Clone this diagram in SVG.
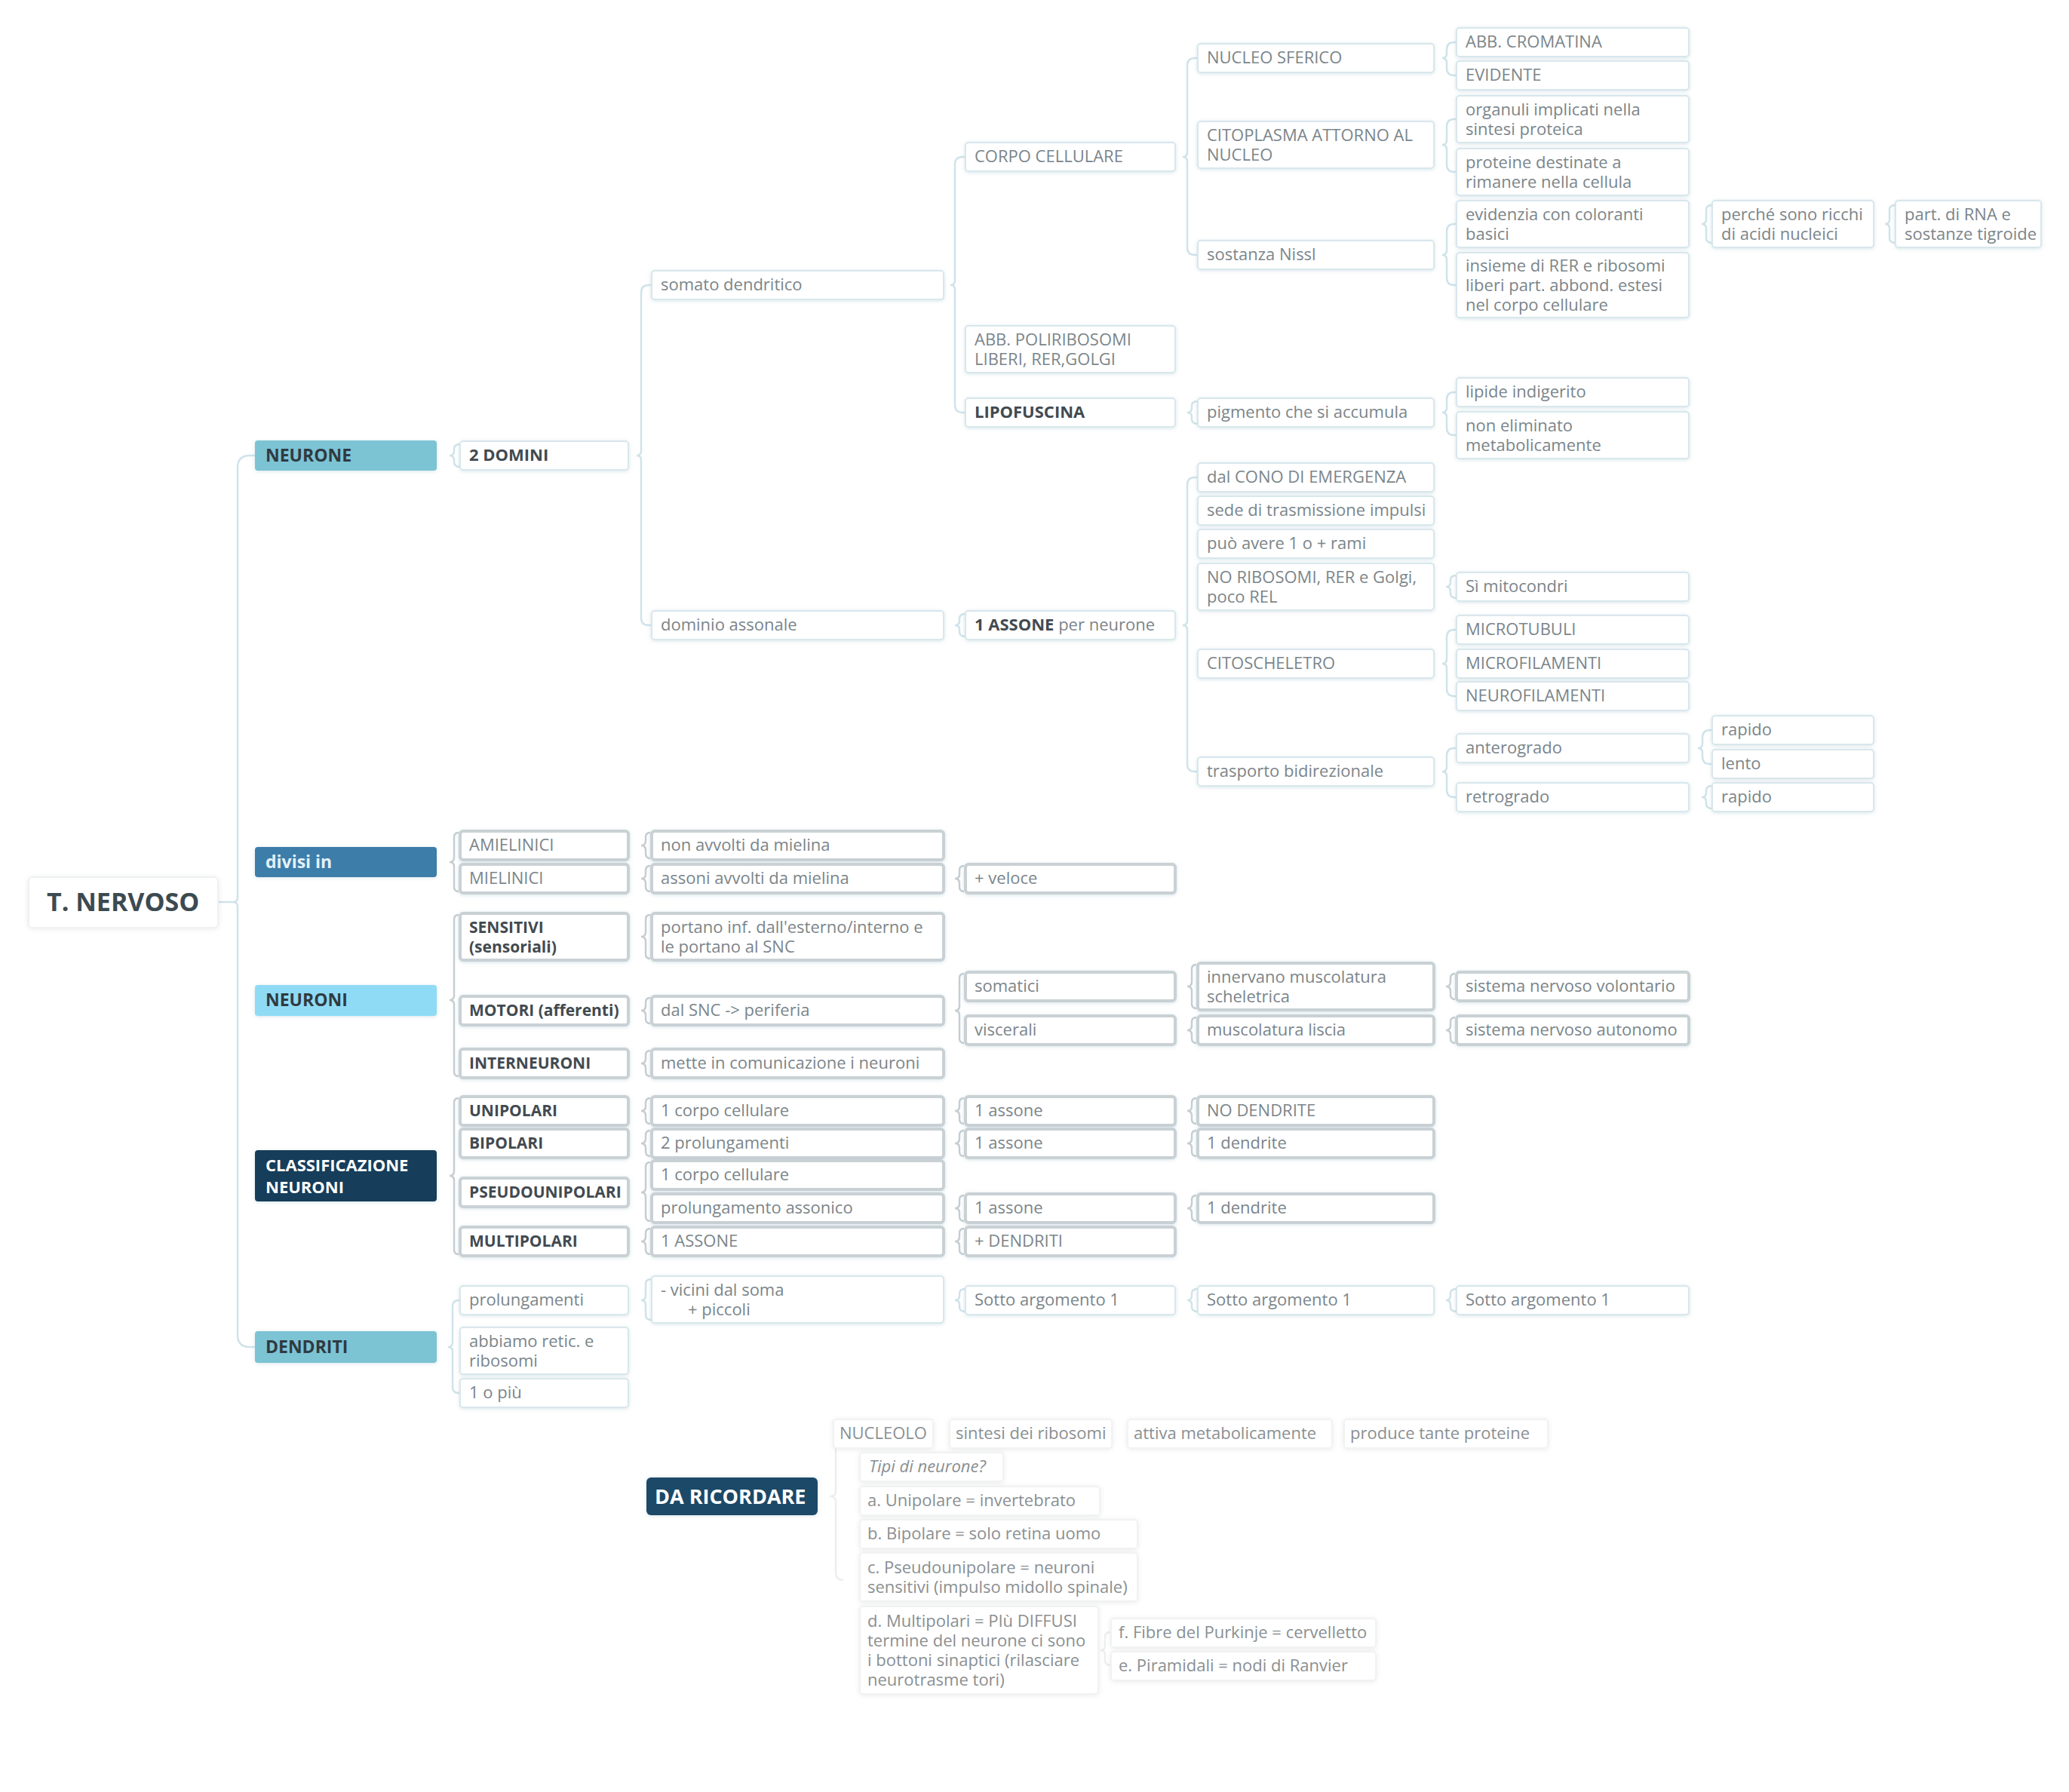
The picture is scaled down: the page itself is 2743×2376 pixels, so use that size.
<svg xmlns="http://www.w3.org/2000/svg" width="2743" height="2376" viewBox="0 0 2743 2376">
<defs>
<filter id="sh" x="-10%" y="-30%" width="120%" height="160%"><feDropShadow dx="0" dy="1" stdDeviation="2.5" flood-color="#8fb3c0" flood-opacity="0.35"/></filter>
<filter id="shf" x="-10%" y="-30%" width="120%" height="160%"><feDropShadow dx="0" dy="1" stdDeviation="3" flood-color="#000" flood-opacity="0.08"/></filter>
<style>
text{font-family:"Open Sans","Liberation Sans",sans-serif;font-size:22px;fill:#7b858a}
.u rect{fill:#fff;stroke:#d8e7ec;stroke-width:2;filter:url(#sh)}
.g rect{fill:#fff;stroke:#c9d1d5;stroke-width:4;filter:url(#sh)}
.f rect{fill:#fff;stroke:#f0f2f3;stroke-width:2;filter:url(#shf)}
.f text{fill:#8a8f92}
.b{font-weight:bold;fill:#424a50}
.g .b{font-size:21px}
.m text{font-weight:bold;font-size:23px;fill:#2f3a40}
.m rect{filter:url(#sh)}
.c path{fill:none;stroke:#cfe3ea;stroke-width:2.5}
.c path.k{stroke:#c6ced2}
.c path.x{stroke:#eceeef}
</style>
</defs>
<rect width="2743" height="2376" fill="#fff"/>

<g id="connectors" class="c">
<path d="M338,604 H331 Q315,604 315,620 V1190 Q315,1196 309,1196 Q315,1196 315,1202 V1770 Q315,1786 331,1786 H338"/>
<path d="M289,1196 H309"/>
<path d="M610,589 Q602,589 602,595 V598 Q602,604 596,604 Q602,604 602,610 V613 Q602,619 610,619"/>
<path d="M864,378 H860 Q850,378 850,388 V598 Q850,604 844,604 Q850,604 850,610 V819 Q850,829 860,829 H864"/>
<path d="M1280,208 H1276 Q1266,208 1266,218 V372 Q1266,378 1260,378 Q1266,378 1266,384 V537 Q1266,547 1276,547 H1280"/>
<path d="M1588,77 H1584 Q1574,77 1574,87 V202 Q1574,208 1568,208 Q1574,208 1574,214 V328 Q1574,338 1584,338 H1588"/>
<path d="M1931,56 H1928 Q1918,56 1918,66 V71 Q1918,77 1912,77 Q1918,77 1918,83 V90 Q1918,100 1928,100 H1931"/>
<path d="M1931,158 H1928 Q1918,158 1918,168 V186 Q1918,192 1912,192 Q1918,192 1918,198 V218 Q1918,228 1928,228 H1931"/>
<path d="M1931,297 H1928 Q1918,297 1918,307 V332 Q1918,338 1912,338 Q1918,338 1918,344 V368 Q1918,378 1928,378 H1931"/>
<path d="M2270,272 Q2262,272 2262,278 V291 Q2262,297 2256,297 Q2262,297 2262,303 V316 Q2262,322 2270,322"/>
<path d="M2513,272 Q2505,272 2505,278 V291 Q2505,297 2499,297 Q2505,297 2505,303 V316 Q2505,322 2513,322"/>
<path d="M1588,532 Q1580,532 1580,538 V541 Q1580,547 1574,547 Q1580,547 1580,553 V556 Q1580,562 1588,562"/>
<path d="M1931,520 H1928 Q1918,520 1918,530 V541 Q1918,547 1912,547 Q1918,547 1918,553 V567 Q1918,577 1928,577 H1931"/>
<path d="M1280,814 Q1272,814 1272,820 V823 Q1272,829 1266,829 Q1272,829 1272,835 V838 Q1272,844 1280,844"/>
<path d="M1588,633 H1584 Q1574,633 1574,643 V823 Q1574,829 1568,829 Q1574,829 1574,835 V1013 Q1574,1023 1584,1023 H1588"/>
<path d="M1931,763 Q1923,763 1923,769 V772 Q1923,778 1917,778 Q1923,778 1923,784 V787 Q1923,793 1931,793"/>
<path d="M1931,835 H1928 Q1918,835 1918,845 V874 Q1918,880 1912,880 Q1918,880 1918,886 V913 Q1918,923 1928,923 H1931"/>
<path d="M1931,992 H1928 Q1918,992 1918,1002 V1017 Q1918,1023 1912,1023 Q1918,1023 1918,1029 V1047 Q1918,1057 1928,1057 H1931"/>
<path d="M2270,968 H2267 Q2257,968 2257,978 V986 Q2257,992 2251,992 Q2257,992 2257,998 V1003 Q2257,1013 2267,1013 H2270"/>
<path d="M2270,1042 Q2262,1042 2262,1048 V1051 Q2262,1057 2256,1057 Q2262,1057 2262,1063 V1066 Q2262,1072 2270,1072"/>

<path d="M610,1724 H608 Q600,1724 600,1732 V1780 Q600,1786 594,1786 Q600,1786 600,1792 V1839 Q600,1847 608,1847 H610"/>
<path d="M864,1696 Q856,1696 856,1702 V1718 Q856,1724 850,1724 Q856,1724 856,1730 V1744 Q856,1750 864,1750"/>
<path d="M1280,1709 Q1272,1709 1272,1715 V1718 Q1272,1724 1266,1724 Q1272,1724 1272,1730 V1733 Q1272,1739 1280,1739"/>
<path d="M1588,1709 Q1580,1709 1580,1715 V1718 Q1580,1724 1574,1724 Q1580,1724 1580,1730 V1733 Q1580,1739 1588,1739"/>
<path d="M1931,1709 Q1923,1709 1923,1715 V1718 Q1923,1724 1917,1724 Q1923,1724 1923,1730 V1733 Q1923,1739 1931,1739"/>

<path class="k" d="M608,1104 Q602,1104 602,1110 V1137 Q602,1143 596,1143 Q602,1143 602,1149 V1176 Q602,1182 608,1182"/>
<path class="k" d="M862,1104 Q856,1104 856,1110 V1115 Q856,1121 850,1121 Q856,1121 856,1127 V1132 Q856,1138 862,1138"/>
<path class="k" d="M862,1148 Q856,1148 856,1154 V1159 Q856,1165 850,1165 Q856,1165 856,1171 V1176 Q856,1182 862,1182"/>
<path class="k" d="M1278,1148 Q1272,1148 1272,1154 V1159 Q1272,1165 1266,1165 Q1272,1165 1272,1171 V1176 Q1272,1182 1278,1182"/>
<path class="k" d="M608,1213 Q602,1213 602,1219 V1320 Q602,1326 596,1326 Q602,1326 602,1332 V1421 Q602,1427 608,1427"/>
<path class="k" d="M862,1213 Q856,1213 856,1219 V1236 Q856,1242 850,1242 Q856,1242 856,1248 V1265 Q856,1271 862,1271"/>
<path class="k" d="M862,1323 Q856,1323 856,1329 V1334 Q856,1340 850,1340 Q856,1340 856,1346 V1351 Q856,1357 862,1357"/>
<path class="k" d="M1278,1291 Q1272,1291 1272,1297 V1334 Q1272,1340 1266,1340 Q1272,1340 1272,1346 V1377 Q1272,1383 1278,1383"/>
<path class="k" d="M1586,1279 Q1580,1279 1580,1285 V1302 Q1580,1308 1574,1308 Q1580,1308 1580,1314 V1331 Q1580,1337 1586,1337"/>
<path class="k" d="M1586,1349 Q1580,1349 1580,1355 V1360 Q1580,1366 1574,1366 Q1580,1366 1580,1372 V1377 Q1580,1383 1586,1383"/>
<path class="k" d="M1929,1291 Q1923,1291 1923,1297 V1302 Q1923,1308 1917,1308 Q1923,1308 1923,1314 V1319 Q1923,1325 1929,1325"/>
<path class="k" d="M1929,1349 Q1923,1349 1923,1355 V1360 Q1923,1366 1917,1366 Q1923,1366 1923,1372 V1377 Q1923,1383 1929,1383"/>
<path class="k" d="M862,1393 Q856,1393 856,1399 V1404 Q856,1410 850,1410 Q856,1410 856,1416 V1421 Q856,1427 862,1427"/>
<path class="k" d="M608,1456 Q602,1456 602,1462 V1553 Q602,1559 596,1559 Q602,1559 602,1565 V1657 Q602,1663 608,1663"/>
<path class="k" d="M862,1456 Q856,1456 856,1462 V1467 Q856,1473 850,1473 Q856,1473 856,1479 V1484 Q856,1490 862,1490"/>
<path class="k" d="M1278,1456 Q1272,1456 1272,1462 V1467 Q1272,1473 1266,1473 Q1272,1473 1272,1479 V1484 Q1272,1490 1278,1490"/>
<path class="k" d="M1586,1456 Q1580,1456 1580,1462 V1467 Q1580,1473 1574,1473 Q1580,1473 1580,1479 V1484 Q1580,1490 1586,1490"/>
<path class="k" d="M862,1499 Q856,1499 856,1505 V1510 Q856,1516 850,1516 Q856,1516 856,1522 V1527 Q856,1533 862,1533"/>
<path class="k" d="M1278,1499 Q1272,1499 1272,1505 V1510 Q1272,1516 1266,1516 Q1272,1516 1272,1522 V1527 Q1272,1533 1278,1533"/>
<path class="k" d="M1586,1499 Q1580,1499 1580,1505 V1510 Q1580,1516 1574,1516 Q1580,1516 1580,1522 V1527 Q1580,1533 1586,1533"/>
<path class="k" d="M862,1541 Q856,1541 856,1547 V1575 Q856,1581 850,1581 Q856,1581 856,1587 V1613 Q856,1619 862,1619"/>
<path class="k" d="M1278,1585 Q1272,1585 1272,1591 V1596 Q1272,1602 1266,1602 Q1272,1602 1272,1608 V1613 Q1272,1619 1278,1619"/>
<path class="k" d="M1586,1585 Q1580,1585 1580,1591 V1596 Q1580,1602 1574,1602 Q1580,1602 1580,1608 V1613 Q1580,1619 1586,1619"/>
<path class="k" d="M862,1629 Q856,1629 856,1635 V1640 Q856,1646 850,1646 Q856,1646 856,1652 V1657 Q856,1663 862,1663"/>
<path class="k" d="M1278,1629 Q1272,1629 1272,1635 V1640 Q1272,1646 1266,1646 Q1272,1646 1272,1652 V1657 Q1272,1663 1278,1663"/>

<path class="x" d="M1118,1900 Q1108,1900 1108,1910 V1978 Q1108,1984 1100,1984 Q1108,1984 1108,1990 V2085 Q1108,2095 1118,2095"/>
<path class="x" d="M1473,2164 Q1465,2164 1465,2170 V2182 Q1465,2188 1459,2188 Q1465,2188 1465,2194 V2202 Q1465,2208 1473,2208"/>
</g>

<g id="n-root"><rect x="38" y="1163" width="251" height="67" rx="5" fill="#fff" stroke="#eef1f2" stroke-width="2" filter="url(#shf)"/><text x="62" y="1208" style="font-size:34px;font-weight:bold;fill:#3c4a52">T. NERVOSO</text></g>

<g class="m">
<g id="n-neurone"><rect x="338" y="584" width="241" height="40" rx="4" fill="#7bc3d4"/><text x="352" y="612">NEURONE</text></g>
<g id="n-divisi"><rect x="338" y="1123" width="241" height="40" rx="4" fill="#3e7daa"/><text x="352" y="1151" style="fill:#e3f1fa">divisi in</text></g>
<g id="n-neuroni"><rect x="338" y="1306" width="241" height="41" rx="4" fill="#8fdbf6"/><text x="352" y="1334">NEURONI</text></g>
<g id="n-class"><rect x="338" y="1525" width="241" height="68" rx="4" fill="#173e5a"/><text x="352" y="1553" style="fill:#fff;font-size:22px">CLASSIFICAZIONE<tspan x="352" dy="29">NEURONI</tspan></text></g>
<g id="n-dendriti"><rect x="338" y="1765" width="241" height="42" rx="4" fill="#7bc3d4"/><text x="352" y="1794">DENDRITI</text></g>
</g>

<g class="u">
<g id="n-2domini"><rect x="610" y="585" width="223" height="38" rx="4"/><text class="b" x="622" y="611">2 DOMINI</text></g>
<g id="n-somato"><rect x="864" y="359" width="387" height="38" rx="4"/><text x="876" y="385">somato dendritico</text></g>
<g id="n-dominio"><rect x="864" y="810" width="387" height="38" rx="4"/><text x="876" y="836">dominio assonale</text></g>
<g id="n-corpo"><rect x="1280" y="189" width="278" height="38" rx="4"/><text x="1292" y="215">CORPO CELLULARE</text></g>
<g id="n-abbpoli"><rect x="1280" y="432" width="278" height="62" rx="4"/><text x="1292" y="458">ABB. POLIRIBOSOMI<tspan x="1292" dy="26">LIBERI, RER,GOLGI</tspan></text></g>
<g id="n-lipo"><rect x="1280" y="528" width="278" height="38" rx="4"/><text class="b" x="1292" y="554">LIPOFUSCINA</text></g>
<g id="n-1assone"><rect x="1280" y="810" width="278" height="38" rx="4"/><text x="1292" y="836"><tspan class="b">1 ASSONE</tspan> per neurone</text></g>
<g id="n-nucleo"><rect x="1588" y="58" width="313" height="38" rx="4"/><text x="1600" y="84">NUCLEO SFERICO</text></g>
<g id="n-cito"><rect x="1588" y="161" width="313" height="62" rx="4"/><text x="1600" y="187">CITOPLASMA ATTORNO AL<tspan x="1600" dy="26">NUCLEO</tspan></text></g>
<g id="n-nissl"><rect x="1588" y="319" width="313" height="38" rx="4"/><text x="1600" y="345">sostanza Nissl</text></g>
<g id="n-pigm"><rect x="1588" y="528" width="313" height="38" rx="4"/><text x="1600" y="554">pigmento che si accumula</text></g>
<g id="n-cono"><rect x="1588" y="614" width="313" height="38" rx="4"/><text x="1600" y="640">dal CONO DI EMERGENZA</text></g>
<g id="n-sede"><rect x="1588" y="658" width="313" height="38" rx="4"/><text x="1600" y="684">sede di trasmissione impulsi</text></g>
<g id="n-puo"><rect x="1588" y="702" width="313" height="38" rx="4"/><text x="1600" y="728">può avere 1 o + rami</text></g>
<g id="n-norib"><rect x="1588" y="747" width="313" height="62" rx="4"/><text x="1600" y="773">NO RIBOSOMI, RER e Golgi,<tspan x="1600" dy="26">poco REL</tspan></text></g>
<g id="n-citosch"><rect x="1588" y="861" width="313" height="38" rx="4"/><text x="1600" y="887">CITOSCHELETRO</text></g>
<g id="n-trasp"><rect x="1588" y="1004" width="313" height="38" rx="4"/><text x="1600" y="1030">trasporto bidirezionale</text></g>
<g id="n-crom"><rect x="1931" y="37" width="308" height="38" rx="4"/><text x="1943" y="63">ABB. CROMATINA</text></g>
<g id="n-evid"><rect x="1931" y="81" width="308" height="38" rx="4"/><text x="1943" y="107">EVIDENTE</text></g>
<g id="n-organ"><rect x="1931" y="127" width="308" height="62" rx="4"/><text x="1943" y="153">organuli implicati nella<tspan x="1943" dy="26">sintesi proteica</tspan></text></g>
<g id="n-prot"><rect x="1931" y="197" width="308" height="62" rx="4"/><text x="1943" y="223">proteine destinate a<tspan x="1943" dy="26">rimanere nella cellula</tspan></text></g>
<g id="n-evidenzia"><rect x="1931" y="266" width="308" height="62" rx="4"/><text x="1943" y="292">evidenzia con coloranti<tspan x="1943" dy="26">basici</tspan></text></g>
<g id="n-insieme"><rect x="1931" y="335" width="308" height="86" rx="4"/><text x="1943" y="360">insieme di RER e ribosomi<tspan x="1943" dy="26">liberi part. abbond. estesi</tspan><tspan x="1943" dy="26">nel corpo cellulare</tspan></text></g>
<g id="n-lipide"><rect x="1931" y="501" width="308" height="38" rx="4"/><text x="1943" y="527">lipide indigerito</text></g>
<g id="n-noelim"><rect x="1931" y="546" width="308" height="62" rx="4"/><text x="1943" y="572">non eliminato<tspan x="1943" dy="26">metabolicamente</tspan></text></g>
<g id="n-si"><rect x="1931" y="759" width="308" height="38" rx="4"/><text x="1943" y="785">Sì mitocondri</text></g>
<g id="n-mtub"><rect x="1931" y="816" width="308" height="38" rx="4"/><text x="1943" y="842">MICROTUBULI</text></g>
<g id="n-mfil"><rect x="1931" y="861" width="308" height="38" rx="4"/><text x="1943" y="887">MICROFILAMENTI</text></g>
<g id="n-nfil"><rect x="1931" y="904" width="308" height="38" rx="4"/><text x="1943" y="930">NEUROFILAMENTI</text></g>
<g id="n-antero"><rect x="1931" y="973" width="308" height="38" rx="4"/><text x="1943" y="999">anterogrado</text></g>
<g id="n-retro"><rect x="1931" y="1038" width="308" height="38" rx="4"/><text x="1943" y="1064">retrogrado</text></g>
<g id="n-perche"><rect x="2270" y="266" width="214" height="62" rx="4"/><text x="2282" y="292">perché sono ricchi<tspan x="2282" dy="26">di acidi nucleici</tspan></text></g>
<g id="n-rna"><rect x="2513" y="266" width="193" height="62" rx="4"/><text x="2525" y="292">part. di RNA e<tspan x="2525" dy="26">sostanze tigroide</tspan></text></g>
<g id="n-rapido1"><rect x="2270" y="949" width="214" height="38" rx="4"/><text x="2282" y="975">rapido</text></g>
<g id="n-lento"><rect x="2270" y="994" width="214" height="38" rx="4"/><text x="2282" y="1020">lento</text></g>
<g id="n-rapido2"><rect x="2270" y="1038" width="214" height="38" rx="4"/><text x="2282" y="1064">rapido</text></g>

<g id="n-prol"><rect x="610" y="1705" width="223" height="38" rx="4"/><text x="622" y="1731">prolungamenti</text></g>
<g id="n-retic"><rect x="610" y="1760" width="223" height="62" rx="4"/><text x="622" y="1786">abbiamo retic. e<tspan x="622" dy="26">ribosomi</tspan></text></g>
<g id="n-1opiu"><rect x="610" y="1828" width="223" height="38" rx="4"/><text x="622" y="1854">1 o più</text></g>
<g id="n-vicini"><rect x="864" y="1692" width="387" height="62" rx="4"/><text x="876" y="1718">- vicini dal soma<tspan x="912" dy="26">+ piccoli</tspan></text></g>
<g id="n-sotto1"><rect x="1280" y="1705" width="278" height="38" rx="4"/><text x="1292" y="1731">Sotto argomento 1</text></g>
<g id="n-sotto2"><rect x="1588" y="1705" width="313" height="38" rx="4"/><text x="1600" y="1731">Sotto argomento 1</text></g>
<g id="n-sotto3"><rect x="1931" y="1705" width="308" height="38" rx="4"/><text x="1943" y="1731">Sotto argomento 1</text></g>
</g>

<g class="g">
<g id="n-amiel"><rect x="610" y="1102" width="223" height="38" rx="4"/><text x="622" y="1128">AMIELINICI</text></g>
<g id="n-miel"><rect x="610" y="1146" width="223" height="38" rx="4"/><text x="622" y="1172">MIELINICI</text></g>
<g id="n-sens"><rect x="610" y="1211" width="223" height="62" rx="4"/><text class="b" x="622" y="1237">SENSITIVI<tspan x="622" dy="26">(sensoriali)</tspan></text></g>
<g id="n-motori"><rect x="610" y="1321" width="223" height="38" rx="4"/><text class="b" x="622" y="1347">MOTORI (afferenti)</text></g>
<g id="n-inter"><rect x="610" y="1391" width="223" height="38" rx="4"/><text class="b" x="622" y="1417">INTERNEURONI</text></g>
<g id="n-uni"><rect x="610" y="1454" width="223" height="38" rx="4"/><text class="b" x="622" y="1480">UNIPOLARI</text></g>
<g id="n-bi"><rect x="610" y="1497" width="223" height="38" rx="4"/><text class="b" x="622" y="1523">BIPOLARI</text></g>
<g id="n-pseudo"><rect x="610" y="1562" width="223" height="38" rx="4"/><text class="b" x="622" y="1588">PSEUDOUNIPOLARI</text></g>
<g id="n-multi"><rect x="610" y="1627" width="223" height="38" rx="4"/><text class="b" x="622" y="1653">MULTIPOLARI</text></g>

<g id="n-nonavv"><rect x="864" y="1102" width="387" height="38" rx="4"/><text x="876" y="1128">non avvolti da mielina</text></g>
<g id="n-assoni"><rect x="864" y="1146" width="387" height="38" rx="4"/><text x="876" y="1172">assoni avvolti da mielina</text></g>
<g id="n-portano"><rect x="864" y="1211" width="387" height="62" rx="4"/><text x="876" y="1237">portano inf. dall'esterno/interno e<tspan x="876" dy="26">le portano al SNC</tspan></text></g>
<g id="n-dalsnc"><rect x="864" y="1321" width="387" height="38" rx="4"/><text x="876" y="1347">dal SNC -&gt; periferia</text></g>
<g id="n-mette"><rect x="864" y="1391" width="387" height="38" rx="4"/><text x="876" y="1417">mette in comunicazione i neuroni</text></g>
<g id="n-corpo1"><rect x="864" y="1454" width="387" height="38" rx="4"/><text x="876" y="1480">1 corpo cellulare</text></g>
<g id="n-2prol"><rect x="864" y="1497" width="387" height="38" rx="4"/><text x="876" y="1523">2 prolungamenti</text></g>
<g id="n-corpo2"><rect x="864" y="1539" width="387" height="38" rx="4"/><text x="876" y="1565">1 corpo cellulare</text></g>
<g id="n-prolass"><rect x="864" y="1583" width="387" height="38" rx="4"/><text x="876" y="1609">prolungamento assonico</text></g>
<g id="n-1ass"><rect x="864" y="1627" width="387" height="38" rx="4"/><text x="876" y="1653">1 ASSONE</text></g>

<g id="n-veloce"><rect x="1280" y="1146" width="278" height="38" rx="4"/><text x="1292" y="1172">+ veloce</text></g>
<g id="n-somatici"><rect x="1280" y="1289" width="278" height="38" rx="4"/><text x="1292" y="1315">somatici</text></g>
<g id="n-viscerali"><rect x="1280" y="1347" width="278" height="38" rx="4"/><text x="1292" y="1373">viscerali</text></g>
<g id="n-a1"><rect x="1280" y="1454" width="278" height="38" rx="4"/><text x="1292" y="1480">1 assone</text></g>
<g id="n-a2"><rect x="1280" y="1497" width="278" height="38" rx="4"/><text x="1292" y="1523">1 assone</text></g>
<g id="n-a3"><rect x="1280" y="1583" width="278" height="38" rx="4"/><text x="1292" y="1609">1 assone</text></g>
<g id="n-piud"><rect x="1280" y="1627" width="278" height="38" rx="4"/><text x="1292" y="1653">+ DENDRITI</text></g>

<g id="n-innerv"><rect x="1588" y="1277" width="313" height="62" rx="4"/><text x="1600" y="1303">innervano muscolatura<tspan x="1600" dy="26">scheletrica</tspan></text></g>
<g id="n-liscia"><rect x="1588" y="1347" width="313" height="38" rx="4"/><text x="1600" y="1373">muscolatura liscia</text></g>
<g id="n-nodend"><rect x="1588" y="1454" width="313" height="38" rx="4"/><text x="1600" y="1480">NO DENDRITE</text></g>
<g id="n-d1"><rect x="1588" y="1497" width="313" height="38" rx="4"/><text x="1600" y="1523">1 dendrite</text></g>
<g id="n-d2"><rect x="1588" y="1583" width="313" height="38" rx="4"/><text x="1600" y="1609">1 dendrite</text></g>
<g id="n-volont"><rect x="1931" y="1289" width="308" height="38" rx="4"/><text x="1943" y="1315">sistema nervoso volontario</text></g>
<g id="n-auton"><rect x="1931" y="1347" width="308" height="38" rx="4"/><text x="1943" y="1373">sistema nervoso autonomo</text></g>
</g>

<g id="n-daric"><rect x="857" y="1959" width="227" height="50" rx="6" fill="#1d4a68" filter="url(#sh)"/><text x="868" y="1994" style="font-size:27px;font-weight:bold;fill:#fff">DA RICORDARE</text></g>
<g class="f">
<g id="n-nucleolo"><rect x="1105" y="1882" width="132" height="38" rx="4"/><text x="1113" y="1908">NUCLEOLO</text></g>
<g id="n-sintesi"><rect x="1259" y="1882" width="215" height="38" rx="4"/><text x="1267" y="1908">sintesi dei ribosomi</text></g>
<g id="n-attiva"><rect x="1495" y="1882" width="271" height="38" rx="4"/><text x="1503" y="1908">attiva metabolicamente</text></g>
<g id="n-produce"><rect x="1782" y="1882" width="270" height="38" rx="4"/><text x="1790" y="1908">produce tante proteine</text></g>
<g id="n-tipi"><rect x="1140" y="1926" width="190" height="38" rx="4"/><text x="1152" y="1952" style="font-style:italic">Tipi di neurone?</text></g>
<g id="n-ta"><rect x="1140" y="1971" width="318" height="38" rx="4"/><text x="1150" y="1997">a. Unipolare = invertebrato</text></g>
<g id="n-tb"><rect x="1140" y="2015" width="368" height="38" rx="4"/><text x="1150" y="2041">b. Bipolare = solo retina uomo</text></g>
<g id="n-tc"><rect x="1140" y="2059" width="368" height="64" rx="4"/><text x="1150" y="2086">c. Pseudounipolare = neuroni<tspan x="1150" dy="26">sensitivi (impulso midollo spinale)</tspan></text></g>
<g id="n-td"><rect x="1140" y="2130" width="316" height="116" rx="4"/><text x="1150" y="2157">d. Multipolari = PIù DIFFUSI<tspan x="1150" dy="26">termine del neurone ci sono</tspan><tspan x="1150" dy="26">i bottoni sinaptici (rilasciare</tspan><tspan x="1150" dy="26">neurotrasme tori)</tspan></text></g>
<g id="n-tf"><rect x="1473" y="2146" width="351" height="38" rx="4"/><text x="1483" y="2172">f. Fibre del Purkinje = cervelletto</text></g>
<g id="n-te"><rect x="1473" y="2190" width="351" height="38" rx="4"/><text x="1483" y="2216">e. Piramidali = nodi di Ranvier</text></g>
</g>
</svg>
